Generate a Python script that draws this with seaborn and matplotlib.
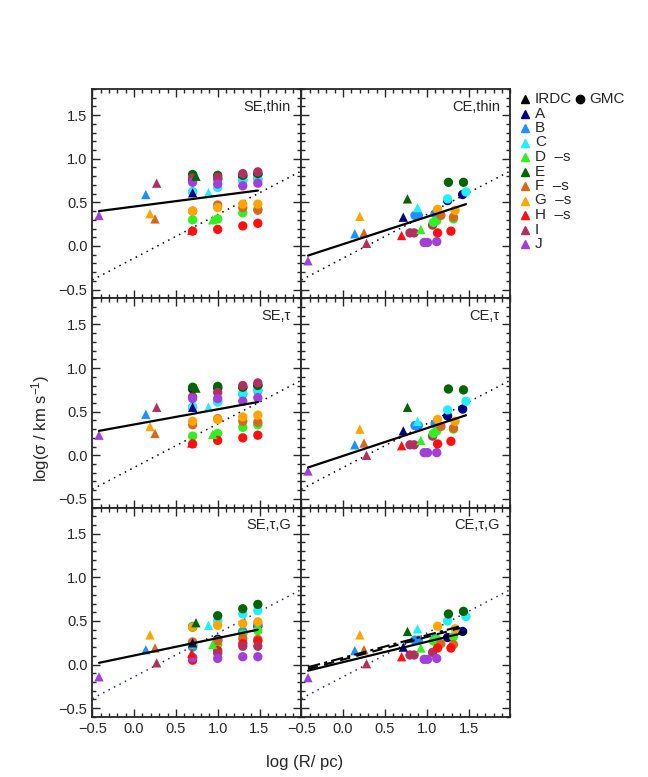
import numpy as np
import pandas as pd
import matplotlib
matplotlib.use('Agg')
import matplotlib.pyplot as plt
import seaborn as sns
from matplotlib.lines import Line2D
from matplotlib.ticker import MultipleLocator

# clouds and their colours
clouds = ['A', 'B', 'C', 'D', 'E', 'F', 'G', 'H', 'I', 'J']
cloud_labels = ['A', 'B', 'C', 'D  \u2013s', 'E', 'F  \u2013s', 'G  \u2013s', 'H  \u2013s', 'I', 'J']
cloud_colors = ['#000080', '#1e90ff', '#22eeff', '#33ee22', '#006400',
                '#d2691e', '#ffa500', '#ff1010', '#b03060', '#a040d8']

# SE models: IRDC (triangles), one per cloud
se_irdc_x = [0.70, 0.14, 0.89, 0.94, 0.74, 0.25, 0.19, 0.69, 0.27, -0.42]
se_thin_irdc_y = [0.61, 0.59, 0.61, 0.30, 0.80, 0.31, 0.37, 0.18, 0.72, 0.35]
se_tau_irdc_y = [0.55, 0.47, 0.55, 0.24, 0.77, 0.25, 0.33, 0.14, 0.55, 0.23]
se_taug_irdc_y = [0.25, 0.17, 0.45, 0.23, 0.48, 0.19, 0.34, 0.13, 0.02, -0.14]

# SE models: GMC (circles), each cloud at four radii
se_gmc_radii = [0.70, 1.00, 1.30, 1.48]
se_thin_gmc_y = [0.76, 0.77, 0.80, 0.82,   # A
                 0.62, 0.76, 0.75, 0.77,   # B
                 0.62, 0.67, 0.75, 0.76,   # C
                 0.30, 0.31, 0.38, 0.42,   # D
                 0.82, 0.81, 0.81, 0.83,   # E
                 0.40, 0.47, 0.44, 0.41,   # F
                 0.40, 0.44, 0.48, 0.48,   # G
                 0.17, 0.19, 0.23, 0.26,   # H
                 0.78, 0.79, 0.83, 0.85,   # I
                 0.73, 0.71, 0.69, 0.72]   # J
se_tau_gmc_y = [0.76, 0.77, 0.78, 0.80,
                0.55, 0.62, 0.70, 0.74,
                0.55, 0.61, 0.71, 0.75,
                0.22, 0.25, 0.32, 0.35,
                0.78, 0.79, 0.78, 0.80,
                0.35, 0.42, 0.39, 0.38,
                0.39, 0.41, 0.44, 0.46,
                0.13, 0.17, 0.20, 0.23,
                0.67, 0.72, 0.80, 0.83,
                0.65, 0.65, 0.62, 0.66]
se_taug_gmc_y = [0.22, 0.29, 0.37, 0.44,
                 0.20, 0.27, 0.38, 0.46,
                 0.44, 0.50, 0.58, 0.62,
                 0.23, 0.23, 0.35, 0.39,
                 0.43, 0.56, 0.64, 0.69,
                 0.26, 0.27, 0.30, 0.29,
                 0.43, 0.45, 0.47, 0.49,
                 0.05, 0.16, 0.24, 0.27,
                 0.08, 0.13, 0.21, 0.21,
                 0.08, 0.07, 0.09, 0.09]

# CE models
ce_irdc_x = [0.72, 0.14, 0.89, 0.93, 0.77, 0.25, 0.20, 0.70, 0.28, -0.42]
ce_thin_irdc_y = [0.33, 0.14, 0.44, 0.19, 0.54, 0.15, 0.34, 0.12, 0.03, -0.17]
ce_tau_irdc_y = [0.28, 0.12, 0.39, 0.17, 0.55, 0.14, 0.30, 0.11, 0.00, -0.18]
ce_taug_irdc_y = [0.20, 0.16, 0.41, 0.19, 0.38, 0.17, 0.34, 0.09, 0.01, -0.15]

ce_gmc_cloud = ['A', 'A', 'B', 'B', 'B', 'I', 'I', 'I', 'J', 'J', 'J', 'D', 'D', 'D',
                'F', 'F', 'G', 'G', 'H', 'H', 'C', 'C', 'E', 'E']
ce_gmc_x = [1.25, 1.43, 0.86, 0.90, 1.10, 0.80, 0.85, 1.07, 0.97, 1.01, 1.12, 1.08, 1.12, 1.32,
            1.17, 1.32, 1.13, 1.34, 1.13, 1.29, 1.25, 1.47, 1.26, 1.44]
ce_thin_gmc_y = [0.52, 0.59, 0.35, 0.35, 0.37, 0.15, 0.15, 0.24, 0.04, 0.04, 0.05, 0.27, 0.29, 0.31,
                 0.35, 0.33, 0.42, 0.41, 0.15, 0.17, 0.54, 0.62, 0.73, 0.73]
ce_tau_gmc_y = [0.45, 0.53, 0.34, 0.34, 0.36, 0.12, 0.12, 0.22, 0.03, 0.03, 0.03, 0.25, 0.28, 0.30,
                0.33, 0.31, 0.41, 0.39, 0.13, 0.16, 0.52, 0.62, 0.76, 0.75]
ce_taug_gmc_y = [0.31, 0.38, 0.28, 0.28, 0.30, 0.11, 0.11, 0.14, 0.06, 0.06, 0.07, 0.27, 0.29, 0.32,
                 0.24, 0.23, 0.44, 0.41, 0.19, 0.19, 0.50, 0.55, 0.58, 0.61]

# fitted relations per panel (SE thin, SE tau, SE tauG, CE thin, CE tau, CE tauG)
fit_slope = [0.124, 0.174, 0.200, 0.312, 0.317, 0.233]
fit_intercept = [0.452, 0.353, 0.104, 0.021, -0.007, 0.028]
fit_xmax = [1.48, 1.48, 1.48, 1.47, 1.47, 1.47]
fit_xmin = -0.42
# extra fits in CE,tau,G (dash-dot and dashed)
extra_slope = [0.258, 0.258]
extra_intercept = [0.078, 0.058]
extra_xmax = 1.40
# reference relation (dotted)
ref_slope, ref_intercept = 0.5, -0.14

panel_names = ['SE,thin', 'SE,\u03c4', 'SE,\u03c4,G', 'CE,thin', 'CE,\u03c4', 'CE,\u03c4,G']


def make_df(irdc_x, irdc_y, gmc_cloud, gmc_x, gmc_y):
    gmc = pd.DataFrame({'cloud': gmc_cloud, 'logR': gmc_x, 'logsig': gmc_y, 'kind': 'GMC'})
    irdc = pd.DataFrame({'cloud': clouds, 'logR': irdc_x, 'logsig': irdc_y, 'kind': 'IRDC'})
    return pd.concat([gmc, irdc], ignore_index=True)


se_cloud = [c for c in clouds for _ in se_gmc_radii]
se_x = se_gmc_radii * len(clouds)
frames = [
    make_df(se_irdc_x, se_thin_irdc_y, se_cloud, se_x, se_thin_gmc_y),
    make_df(se_irdc_x, se_tau_irdc_y, se_cloud, se_x, se_tau_gmc_y),
    make_df(se_irdc_x, se_taug_irdc_y, se_cloud, se_x, se_taug_gmc_y),
    make_df(ce_irdc_x, ce_thin_irdc_y, ce_gmc_cloud, ce_gmc_x, ce_thin_gmc_y),
    make_df(ce_irdc_x, ce_tau_irdc_y, ce_gmc_cloud, ce_gmc_x, ce_tau_gmc_y),
    make_df(ce_irdc_x, ce_taug_irdc_y, ce_gmc_cloud, ce_gmc_x, ce_taug_gmc_y),
]

sns.set_style('ticks')
plt.rcParams['font.family'] = ['Liberation Sans', 'DejaVu Sans']
plt.rcParams['mathtext.default'] = 'regular'

fig = plt.figure(figsize=(6.48, 7.77), dpi=100)
W, H = 648, 777
col_left = [92.3, 301.3]
col_w = 209.0
row_top = [89.0, 298.3, 507.6]
row_h = 209.3

palette = dict(zip(clouds, cloud_colors))
for i in range(6):
    col, row = i // 3, i % 3
    ax = fig.add_axes([col_left[col] / W, 1 - (row_top[row] + row_h) / H, col_w / W, row_h / H])
    ref_color = 'black' if row < 2 else '#2a2a70'
    xr = np.array([-0.5, 2.0])
    ax.plot(xr, ref_slope * xr + ref_intercept, ls=(0, (1, 3)), color=ref_color, lw=1.1, zorder=1)
    sns.scatterplot(data=frames[i], x='logR', y='logsig', hue='cloud', hue_order=clouds,
                    palette=palette, style='kind', markers={'GMC': 'o', 'IRDC': '^'},
                    s=45, linewidth=0, legend=False, ax=ax, zorder=2)
    xf = np.array([fit_xmin, fit_xmax[i]])
    ax.plot(xf, fit_slope[i] * xf + fit_intercept[i], color='black', lw=1.6, zorder=3)
    if i == 5:
        xe = np.array([fit_xmin, extra_xmax])
        ax.plot(xe, extra_slope[0] * xe + extra_intercept[0], color='black', lw=1.5,
                ls=(0, (6, 2, 1.5, 2)), zorder=3)
        ax.plot(xe, extra_slope[1] * xe + extra_intercept[1], color='black', lw=1.5,
                ls=(0, (5, 3)), zorder=3)
    ax.set_xlim(-0.5, 2.0)
    ax.set_ylim(-0.6, 1.8)
    ax.xaxis.set_minor_locator(MultipleLocator(0.1))
    ax.yaxis.set_minor_locator(MultipleLocator(0.1))
    ax.set_xticks([-0.5, 0.0, 0.5, 1.0, 1.5])
    ax.set_yticks([-0.5, 0.0, 0.5, 1.0, 1.5])
    ax.tick_params(which='both', direction='in', top=True, right=True, width=1.0, labelsize=10.5)
    ax.tick_params(which='major', length=6)
    ax.tick_params(which='minor', length=3)
    ax.tick_params(labelleft=(col == 0), labelbottom=(row == 2))
    ax.set_xlabel('')
    ax.set_ylabel('')
    for sp in ax.spines.values():
        sp.set_linewidth(1.3)
    ax.text(0.95, 0.915, panel_names[i], transform=ax.transAxes, ha='right', va='center',
            fontsize=10.5)

fig.text(305 / W, 1 - 763 / H, 'log (R/ pc)', ha='center', va='center', fontsize=12)
fig.text(41 / W, 1 - 428 / H, r'log($\sigma$ / km s$^{-1}$)', ha='center', va='center',
         rotation=90, fontsize=12)

# legend
leg_y0 = 1 - 99 / H
leg_dy = 14.5 / H
fig.add_artist(Line2D([525 / W], [leg_y0], marker='^', color='black', markersize=6,
                      linestyle='none', transform=fig.transFigure))
fig.text(535 / W, leg_y0, 'IRDC', va='center', fontsize=11)
fig.add_artist(Line2D([580 / W], [leg_y0], marker='o', color='black', markersize=6,
                      linestyle='none', transform=fig.transFigure))
fig.text(589 / W, leg_y0, 'GMC', va='center', fontsize=11)
for k, (lab, colr) in enumerate(zip(cloud_labels, cloud_colors)):
    y = leg_y0 - (k + 1) * leg_dy
    fig.add_artist(Line2D([525 / W], [y], marker='^', color=colr, markersize=6,
                          linestyle='none', transform=fig.transFigure))
    fig.text(535 / W, y, lab, va='center', fontsize=11)

fig.savefig('out.png', dpi=100)
